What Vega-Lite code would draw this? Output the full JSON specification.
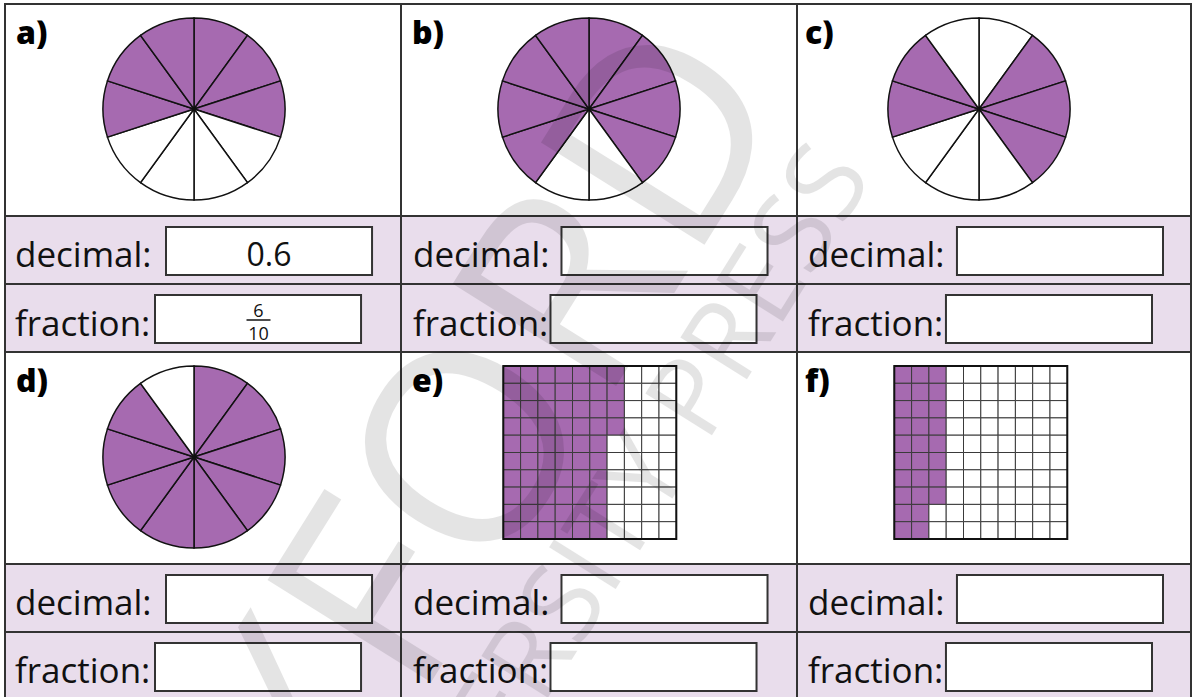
{
  "$schema": "https://vega.github.io/schema/vega-lite/v6.json",
  "width": 1198,
  "height": 697,
  "autosize": {"type": "none"},
  "padding": 0,
  "background": "white",
  "config": {"view": {"stroke": null}},
  "datasets": {
    "cells": [
      {"c0": 0, "c1": 1, "r0": 0, "r1": 1, "t": "blank"},
      {"c0": 1, "c1": 2, "r0": 0, "r1": 1, "t": "blank"},
      {"c0": 2, "c1": 3, "r0": 0, "r1": 1, "t": "blank"},
      {"c0": 0, "c1": 1, "r0": 1, "r1": 2, "t": "band"},
      {"c0": 1, "c1": 2, "r0": 1, "r1": 2, "t": "band"},
      {"c0": 2, "c1": 3, "r0": 1, "r1": 2, "t": "band"},
      {"c0": 0, "c1": 1, "r0": 2, "r1": 3, "t": "band"},
      {"c0": 1, "c1": 2, "r0": 2, "r1": 3, "t": "band"},
      {"c0": 2, "c1": 3, "r0": 2, "r1": 3, "t": "band"},
      {"c0": 0, "c1": 1, "r0": 3, "r1": 4, "t": "blank"},
      {"c0": 1, "c1": 2, "r0": 3, "r1": 4, "t": "blank"},
      {"c0": 2, "c1": 3, "r0": 3, "r1": 4, "t": "blank"},
      {"c0": 0, "c1": 1, "r0": 4, "r1": 5, "t": "band"},
      {"c0": 1, "c1": 2, "r0": 4, "r1": 5, "t": "band"},
      {"c0": 2, "c1": 3, "r0": 4, "r1": 5, "t": "band"},
      {"c0": 0, "c1": 1, "r0": 5, "r1": 6, "t": "band"},
      {"c0": 1, "c1": 2, "r0": 5, "r1": 6, "t": "band"},
      {"c0": 2, "c1": 3, "r0": 5, "r1": 6, "t": "band"}
    ],
    "boxes": [
      {"col": 0, "row": 0}, {"col": 1, "row": 0}, {"col": 2, "row": 0},
      {"col": 0, "row": 1}, {"col": 1, "row": 1}, {"col": 2, "row": 1}
    ],
    "labels": [
      {"col": 0, "slot": 0, "label": "decimal:"}, {"col": 1, "slot": 0, "label": "decimal:"}, {"col": 2, "slot": 0, "label": "decimal:"},
      {"col": 0, "slot": 1, "label": "fraction:"}, {"col": 1, "slot": 1, "label": "fraction:"}, {"col": 2, "slot": 1, "label": "fraction:"},
      {"col": 0, "slot": 2, "label": "decimal:"}, {"col": 1, "slot": 2, "label": "decimal:"}, {"col": 2, "slot": 2, "label": "decimal:"},
      {"col": 0, "slot": 3, "label": "fraction:"}, {"col": 1, "slot": 3, "label": "fraction:"}, {"col": 2, "slot": 3, "label": "fraction:"}
    ],
    "letters": [
      {"p": "a)", "col": 0, "row": 0}, {"p": "b)", "col": 1, "row": 0}, {"p": "c)", "col": 2, "row": 0},
      {"p": "d)", "col": 0, "row": 1}, {"p": "e)", "col": 1, "row": 1}, {"p": "f)", "col": 2, "row": 1}
    ],
    "answerDecimal": [{"col": 0, "row": 0, "text": "0.6"}],
    "answerFraction": [
      {"col": 0, "part": 0, "text": "6"},
      {"col": 0, "part": 1, "text": "10"}
    ],
    "fractionBar": [{"col": 0, "row": 0}],
    "slices": [
      {"col": 0, "row": 0, "s0": 0, "s1": 1, "t": "shade"},
      {"col": 0, "row": 0, "s0": 1, "s1": 2, "t": "shade"},
      {"col": 0, "row": 0, "s0": 2, "s1": 3, "t": "shade"},
      {"col": 0, "row": 0, "s0": 3, "s1": 4, "t": "blank"},
      {"col": 0, "row": 0, "s0": 4, "s1": 5, "t": "blank"},
      {"col": 0, "row": 0, "s0": 5, "s1": 6, "t": "blank"},
      {"col": 0, "row": 0, "s0": 6, "s1": 7, "t": "blank"},
      {"col": 0, "row": 0, "s0": 7, "s1": 8, "t": "shade"},
      {"col": 0, "row": 0, "s0": 8, "s1": 9, "t": "shade"},
      {"col": 0, "row": 0, "s0": 9, "s1": 10, "t": "shade"},
      {"col": 1, "row": 0, "s0": 0, "s1": 1, "t": "shade"},
      {"col": 1, "row": 0, "s0": 1, "s1": 2, "t": "shade"},
      {"col": 1, "row": 0, "s0": 2, "s1": 3, "t": "shade"},
      {"col": 1, "row": 0, "s0": 3, "s1": 4, "t": "shade"},
      {"col": 1, "row": 0, "s0": 4, "s1": 5, "t": "blank"},
      {"col": 1, "row": 0, "s0": 5, "s1": 6, "t": "blank"},
      {"col": 1, "row": 0, "s0": 6, "s1": 7, "t": "shade"},
      {"col": 1, "row": 0, "s0": 7, "s1": 8, "t": "shade"},
      {"col": 1, "row": 0, "s0": 8, "s1": 9, "t": "shade"},
      {"col": 1, "row": 0, "s0": 9, "s1": 10, "t": "shade"},
      {"col": 2, "row": 0, "s0": 0, "s1": 1, "t": "blank"},
      {"col": 2, "row": 0, "s0": 1, "s1": 2, "t": "shade"},
      {"col": 2, "row": 0, "s0": 2, "s1": 3, "t": "shade"},
      {"col": 2, "row": 0, "s0": 3, "s1": 4, "t": "shade"},
      {"col": 2, "row": 0, "s0": 4, "s1": 5, "t": "blank"},
      {"col": 2, "row": 0, "s0": 5, "s1": 6, "t": "blank"},
      {"col": 2, "row": 0, "s0": 6, "s1": 7, "t": "blank"},
      {"col": 2, "row": 0, "s0": 7, "s1": 8, "t": "shade"},
      {"col": 2, "row": 0, "s0": 8, "s1": 9, "t": "shade"},
      {"col": 2, "row": 0, "s0": 9, "s1": 10, "t": "blank"},
      {"col": 0, "row": 1, "s0": 0, "s1": 1, "t": "shade"},
      {"col": 0, "row": 1, "s0": 1, "s1": 2, "t": "shade"},
      {"col": 0, "row": 1, "s0": 2, "s1": 3, "t": "shade"},
      {"col": 0, "row": 1, "s0": 3, "s1": 4, "t": "shade"},
      {"col": 0, "row": 1, "s0": 4, "s1": 5, "t": "shade"},
      {"col": 0, "row": 1, "s0": 5, "s1": 6, "t": "shade"},
      {"col": 0, "row": 1, "s0": 6, "s1": 7, "t": "shade"},
      {"col": 0, "row": 1, "s0": 7, "s1": 8, "t": "shade"},
      {"col": 0, "row": 1, "s0": 8, "s1": 9, "t": "shade"},
      {"col": 0, "row": 1, "s0": 9, "s1": 10, "t": "blank"}
    ],
    "gridE": [
      {"c":0,"r":0,"t":"shade"},{"c":1,"r":0,"t":"shade"},{"c":2,"r":0,"t":"shade"},{"c":3,"r":0,"t":"shade"},{"c":4,"r":0,"t":"shade"},{"c":5,"r":0,"t":"shade"},{"c":6,"r":0,"t":"shade"},{"c":7,"r":0,"t":"blank"},{"c":8,"r":0,"t":"blank"},{"c":9,"r":0,"t":"blank"},
      {"c":0,"r":1,"t":"shade"},{"c":1,"r":1,"t":"shade"},{"c":2,"r":1,"t":"shade"},{"c":3,"r":1,"t":"shade"},{"c":4,"r":1,"t":"shade"},{"c":5,"r":1,"t":"shade"},{"c":6,"r":1,"t":"shade"},{"c":7,"r":1,"t":"blank"},{"c":8,"r":1,"t":"blank"},{"c":9,"r":1,"t":"blank"},
      {"c":0,"r":2,"t":"shade"},{"c":1,"r":2,"t":"shade"},{"c":2,"r":2,"t":"shade"},{"c":3,"r":2,"t":"shade"},{"c":4,"r":2,"t":"shade"},{"c":5,"r":2,"t":"shade"},{"c":6,"r":2,"t":"shade"},{"c":7,"r":2,"t":"blank"},{"c":8,"r":2,"t":"blank"},{"c":9,"r":2,"t":"blank"},
      {"c":0,"r":3,"t":"shade"},{"c":1,"r":3,"t":"shade"},{"c":2,"r":3,"t":"shade"},{"c":3,"r":3,"t":"shade"},{"c":4,"r":3,"t":"shade"},{"c":5,"r":3,"t":"shade"},{"c":6,"r":3,"t":"shade"},{"c":7,"r":3,"t":"blank"},{"c":8,"r":3,"t":"blank"},{"c":9,"r":3,"t":"blank"},
      {"c":0,"r":4,"t":"shade"},{"c":1,"r":4,"t":"shade"},{"c":2,"r":4,"t":"shade"},{"c":3,"r":4,"t":"shade"},{"c":4,"r":4,"t":"shade"},{"c":5,"r":4,"t":"shade"},{"c":6,"r":4,"t":"blank"},{"c":7,"r":4,"t":"blank"},{"c":8,"r":4,"t":"blank"},{"c":9,"r":4,"t":"blank"},
      {"c":0,"r":5,"t":"shade"},{"c":1,"r":5,"t":"shade"},{"c":2,"r":5,"t":"shade"},{"c":3,"r":5,"t":"shade"},{"c":4,"r":5,"t":"shade"},{"c":5,"r":5,"t":"shade"},{"c":6,"r":5,"t":"blank"},{"c":7,"r":5,"t":"blank"},{"c":8,"r":5,"t":"blank"},{"c":9,"r":5,"t":"blank"},
      {"c":0,"r":6,"t":"shade"},{"c":1,"r":6,"t":"shade"},{"c":2,"r":6,"t":"shade"},{"c":3,"r":6,"t":"shade"},{"c":4,"r":6,"t":"shade"},{"c":5,"r":6,"t":"shade"},{"c":6,"r":6,"t":"blank"},{"c":7,"r":6,"t":"blank"},{"c":8,"r":6,"t":"blank"},{"c":9,"r":6,"t":"blank"},
      {"c":0,"r":7,"t":"shade"},{"c":1,"r":7,"t":"shade"},{"c":2,"r":7,"t":"shade"},{"c":3,"r":7,"t":"shade"},{"c":4,"r":7,"t":"shade"},{"c":5,"r":7,"t":"shade"},{"c":6,"r":7,"t":"blank"},{"c":7,"r":7,"t":"blank"},{"c":8,"r":7,"t":"blank"},{"c":9,"r":7,"t":"blank"},
      {"c":0,"r":8,"t":"shade"},{"c":1,"r":8,"t":"shade"},{"c":2,"r":8,"t":"shade"},{"c":3,"r":8,"t":"shade"},{"c":4,"r":8,"t":"shade"},{"c":5,"r":8,"t":"shade"},{"c":6,"r":8,"t":"blank"},{"c":7,"r":8,"t":"blank"},{"c":8,"r":8,"t":"blank"},{"c":9,"r":8,"t":"blank"},
      {"c":0,"r":9,"t":"shade"},{"c":1,"r":9,"t":"shade"},{"c":2,"r":9,"t":"shade"},{"c":3,"r":9,"t":"shade"},{"c":4,"r":9,"t":"shade"},{"c":5,"r":9,"t":"shade"},{"c":6,"r":9,"t":"blank"},{"c":7,"r":9,"t":"blank"},{"c":8,"r":9,"t":"blank"},{"c":9,"r":9,"t":"blank"}
    ],
    "gridF": [
      {"c":0,"r":0,"t":"shade"},{"c":1,"r":0,"t":"shade"},{"c":2,"r":0,"t":"shade"},{"c":3,"r":0,"t":"blank"},{"c":4,"r":0,"t":"blank"},{"c":5,"r":0,"t":"blank"},{"c":6,"r":0,"t":"blank"},{"c":7,"r":0,"t":"blank"},{"c":8,"r":0,"t":"blank"},{"c":9,"r":0,"t":"blank"},
      {"c":0,"r":1,"t":"shade"},{"c":1,"r":1,"t":"shade"},{"c":2,"r":1,"t":"shade"},{"c":3,"r":1,"t":"blank"},{"c":4,"r":1,"t":"blank"},{"c":5,"r":1,"t":"blank"},{"c":6,"r":1,"t":"blank"},{"c":7,"r":1,"t":"blank"},{"c":8,"r":1,"t":"blank"},{"c":9,"r":1,"t":"blank"},
      {"c":0,"r":2,"t":"shade"},{"c":1,"r":2,"t":"shade"},{"c":2,"r":2,"t":"shade"},{"c":3,"r":2,"t":"blank"},{"c":4,"r":2,"t":"blank"},{"c":5,"r":2,"t":"blank"},{"c":6,"r":2,"t":"blank"},{"c":7,"r":2,"t":"blank"},{"c":8,"r":2,"t":"blank"},{"c":9,"r":2,"t":"blank"},
      {"c":0,"r":3,"t":"shade"},{"c":1,"r":3,"t":"shade"},{"c":2,"r":3,"t":"shade"},{"c":3,"r":3,"t":"blank"},{"c":4,"r":3,"t":"blank"},{"c":5,"r":3,"t":"blank"},{"c":6,"r":3,"t":"blank"},{"c":7,"r":3,"t":"blank"},{"c":8,"r":3,"t":"blank"},{"c":9,"r":3,"t":"blank"},
      {"c":0,"r":4,"t":"shade"},{"c":1,"r":4,"t":"shade"},{"c":2,"r":4,"t":"shade"},{"c":3,"r":4,"t":"blank"},{"c":4,"r":4,"t":"blank"},{"c":5,"r":4,"t":"blank"},{"c":6,"r":4,"t":"blank"},{"c":7,"r":4,"t":"blank"},{"c":8,"r":4,"t":"blank"},{"c":9,"r":4,"t":"blank"},
      {"c":0,"r":5,"t":"shade"},{"c":1,"r":5,"t":"shade"},{"c":2,"r":5,"t":"shade"},{"c":3,"r":5,"t":"blank"},{"c":4,"r":5,"t":"blank"},{"c":5,"r":5,"t":"blank"},{"c":6,"r":5,"t":"blank"},{"c":7,"r":5,"t":"blank"},{"c":8,"r":5,"t":"blank"},{"c":9,"r":5,"t":"blank"},
      {"c":0,"r":6,"t":"shade"},{"c":1,"r":6,"t":"shade"},{"c":2,"r":6,"t":"shade"},{"c":3,"r":6,"t":"blank"},{"c":4,"r":6,"t":"blank"},{"c":5,"r":6,"t":"blank"},{"c":6,"r":6,"t":"blank"},{"c":7,"r":6,"t":"blank"},{"c":8,"r":6,"t":"blank"},{"c":9,"r":6,"t":"blank"},
      {"c":0,"r":7,"t":"shade"},{"c":1,"r":7,"t":"shade"},{"c":2,"r":7,"t":"shade"},{"c":3,"r":7,"t":"blank"},{"c":4,"r":7,"t":"blank"},{"c":5,"r":7,"t":"blank"},{"c":6,"r":7,"t":"blank"},{"c":7,"r":7,"t":"blank"},{"c":8,"r":7,"t":"blank"},{"c":9,"r":7,"t":"blank"},
      {"c":0,"r":8,"t":"shade"},{"c":1,"r":8,"t":"shade"},{"c":2,"r":8,"t":"blank"},{"c":3,"r":8,"t":"blank"},{"c":4,"r":8,"t":"blank"},{"c":5,"r":8,"t":"blank"},{"c":6,"r":8,"t":"blank"},{"c":7,"r":8,"t":"blank"},{"c":8,"r":8,"t":"blank"},{"c":9,"r":8,"t":"blank"},
      {"c":0,"r":9,"t":"shade"},{"c":1,"r":9,"t":"shade"},{"c":2,"r":9,"t":"blank"},{"c":3,"r":9,"t":"blank"},{"c":4,"r":9,"t":"blank"},{"c":5,"r":9,"t":"blank"},{"c":6,"r":9,"t":"blank"},{"c":7,"r":9,"t":"blank"},{"c":8,"r":9,"t":"blank"},{"c":9,"r":9,"t":"blank"}
    ],
    "frames": [{"col": 1, "row": 1}, {"col": 2, "row": 1}],
    "watermark": [
      {"i": 0, "w": "OXFORD"},
      {"i": 1, "w": "UNIVERSITY PRESS"}
    ]
  },
  "layer": [
    {
      "data": {"name": "cells"},
      "mark": {"type": "rect", "stroke": "#333333", "strokeWidth": 2},
      "encoding": {
        "x": {"field": "c0", "type": "quantitative", "axis": null, "scale": {"domain": [0, 1, 2, 3], "range": [5, 401, 797, 1191], "nice": false, "zero": false}},
        "x2": {"field": "c1"},
        "y": {"field": "r0", "type": "quantitative", "axis": null, "scale": {"domain": [0, 1, 2, 3, 4, 5, 6], "range": [4, 216, 284, 352, 564, 632, 700], "nice": false, "zero": false}},
        "y2": {"field": "r1"},
        "fill": {"field": "t", "type": "nominal", "legend": null, "scale": {"domain": ["shade", "blank", "band"], "range": ["#a66ab0", "#ffffff", "#e9ddec"]}}
      }
    },
    {
      "data": {"name": "boxes"},
      "mark": {"type": "rect", "fill": "#ffffff", "stroke": "#333333", "strokeWidth": 2},
      "encoding": {
        "x": {"field": "col", "type": "ordinal", "axis": null, "scale": {"type": "band", "domain": [0, 1, 2], "range": [166, 1163], "paddingInner": 0.479, "paddingOuter": 0}},
        "y": {"field": "row", "type": "ordinal", "axis": null, "scale": {"type": "band", "domain": [0, 1], "range": [227, 623], "paddingInner": 0.8621, "paddingOuter": 0}}
      }
    },
    {
      "data": {"name": "boxes"},
      "mark": {"type": "rect", "fill": "#ffffff", "stroke": "#333333", "strokeWidth": 2},
      "encoding": {
        "x": {"field": "col", "type": "ordinal", "axis": null, "scale": {"type": "band", "domain": [0, 1, 2], "range": [155, 1152], "paddingInner": 0.479, "paddingOuter": 0}},
        "y": {"field": "row", "type": "ordinal", "axis": null, "scale": {"type": "band", "domain": [0, 1], "range": [295, 691], "paddingInner": 0.8621, "paddingOuter": 0}}
      }
    },
    {
      "data": {"name": "labels"},
      "mark": {"type": "text", "align": "left", "baseline": "alphabetic", "font": "Open Sans", "fontSize": 35, "color": "#111111"},
      "encoding": {
        "x": {"field": "col", "type": "quantitative", "axis": null, "scale": {"domain": [0, 1, 2], "range": [15, 413, 808], "nice": false, "zero": false}},
        "y": {"field": "slot", "type": "quantitative", "axis": null, "scale": {"domain": [0, 1, 2, 3], "range": [267, 336, 615, 683], "nice": false, "zero": false}},
        "text": {"field": "label"}
      }
    },
    {
      "data": {"name": "letters"},
      "mark": {"type": "text", "align": "left", "baseline": "alphabetic", "font": "Open Sans", "fontWeight": 800, "fontSize": 32, "color": "#000000"},
      "encoding": {
        "x": {"field": "col", "type": "quantitative", "axis": null, "scale": {"domain": [0, 1, 2], "range": [16, 412, 805], "nice": false, "zero": false}},
        "y": {"field": "row", "type": "quantitative", "axis": null, "scale": {"domain": [0, 1], "range": [44, 392], "nice": false, "zero": false}},
        "text": {"field": "p"}
      }
    },
    {
      "data": {"name": "answerDecimal"},
      "mark": {"type": "text", "align": "center", "baseline": "alphabetic", "font": "Open Sans", "fontSize": 32, "color": "#111111"},
      "encoding": {
        "x": {"field": "col", "type": "quantitative", "axis": null, "scale": {"domain": [0, 1, 2], "range": [269, 665, 1059], "nice": false, "zero": false}},
        "y": {"field": "row", "type": "quantitative", "axis": null, "scale": {"domain": [0, 1], "range": [266, 614], "nice": false, "zero": false}},
        "text": {"field": "text"}
      }
    },
    {
      "data": {"name": "answerFraction"},
      "mark": {"type": "text", "align": "center", "baseline": "alphabetic", "font": "Open Sans", "fontSize": 18, "color": "#111111"},
      "encoding": {
        "x": {"field": "col", "type": "quantitative", "axis": null, "scale": {"domain": [0, 1, 2], "range": [258.5, 654, 1049], "nice": false, "zero": false}},
        "y": {"field": "part", "type": "quantitative", "axis": null, "scale": {"domain": [0, 1], "range": [317, 340], "nice": false, "zero": false}},
        "text": {"field": "text"}
      }
    },
    {
      "data": {"name": "fractionBar"},
      "mark": {"type": "tick", "orient": "horizontal", "size": 24, "thickness": 1.5, "color": "#111111", "opacity": 1},
      "encoding": {
        "x": {"field": "col", "type": "quantitative", "axis": null, "scale": {"domain": [0, 1, 2], "range": [258.5, 654, 1049], "nice": false, "zero": false}},
        "y": {"field": "row", "type": "quantitative", "axis": null, "scale": {"domain": [0, 1], "range": [320, 668], "nice": false, "zero": false}}
      }
    },
    {
      "data": {"name": "slices"},
      "mark": {"type": "arc", "outerRadius": 91, "stroke": "#111111", "strokeWidth": 1.5},
      "encoding": {
        "x": {"field": "col", "type": "quantitative", "axis": null, "scale": {"domain": [0, 1, 2], "range": [194, 589, 979], "nice": false, "zero": false}},
        "y": {"field": "row", "type": "quantitative", "axis": null, "scale": {"domain": [0, 1], "range": [109, 457], "nice": false, "zero": false}},
        "theta": {"field": "s0", "type": "quantitative", "stack": null, "scale": {"domain": [0, 10], "range": [0, 6.283185307179586], "nice": false, "zero": false}},
        "theta2": {"field": "s1"},
        "fill": {"field": "t", "type": "nominal", "legend": null, "scale": {"domain": ["shade", "blank", "band"], "range": ["#a66ab0", "#ffffff", "#e9ddec"]}}
      }
    },
    {
      "data": {"name": "gridE"},
      "mark": {"type": "rect", "stroke": "#3a3a3a", "strokeWidth": 1},
      "encoding": {
        "x": {"field": "c", "type": "ordinal", "axis": null, "scale": {"type": "band", "domain": [0,1,2,3,4,5,6,7,8,9], "range": [503.3, 676.3], "paddingInner": 0, "paddingOuter": 0}},
        "y": {"field": "r", "type": "ordinal", "axis": null, "scale": {"type": "band", "domain": [0,1,2,3,4,5,6,7,8,9], "range": [366, 539], "paddingInner": 0, "paddingOuter": 0}},
        "fill": {"field": "t", "type": "nominal", "legend": null, "scale": {"domain": ["shade", "blank", "band"], "range": ["#a66ab0", "#ffffff", "#e9ddec"]}}
      }
    },
    {
      "data": {"name": "gridF"},
      "mark": {"type": "rect", "stroke": "#3a3a3a", "strokeWidth": 1},
      "encoding": {
        "x": {"field": "c", "type": "ordinal", "axis": null, "scale": {"type": "band", "domain": [0,1,2,3,4,5,6,7,8,9], "range": [894.3, 1067.3], "paddingInner": 0, "paddingOuter": 0}},
        "y": {"field": "r", "type": "ordinal", "axis": null, "scale": {"type": "band", "domain": [0,1,2,3,4,5,6,7,8,9], "range": [366, 539], "paddingInner": 0, "paddingOuter": 0}},
        "fill": {"field": "t", "type": "nominal", "legend": null, "scale": {"domain": ["shade", "blank", "band"], "range": ["#a66ab0", "#ffffff", "#e9ddec"]}}
      }
    },
    {
      "data": {"name": "frames"},
      "mark": {"type": "rect", "fillOpacity": 0, "stroke": "#111111", "strokeWidth": 2},
      "encoding": {
        "x": {"field": "col", "type": "ordinal", "axis": null, "scale": {"type": "band", "domain": [1, 2], "range": [503.3, 1067.3], "paddingInner": 0.5575, "paddingOuter": 0}},
        "y": {"field": "row", "type": "ordinal", "axis": null, "scale": {"type": "band", "domain": [1], "range": [366, 539], "paddingInner": 0, "paddingOuter": 0}}
      }
    },
    {
      "data": {"name": "watermark"},
      "mark": {"type": "text", "align": "center", "baseline": "middle", "font": "Open Sans", "angle": -58, "color": "#000000", "opacity": 0.1},
      "encoding": {
        "x": {"field": "i", "type": "quantitative", "axis": null, "scale": {"domain": [0, 1], "range": [440, 595], "nice": false, "zero": false}},
        "y": {"field": "i", "type": "quantitative", "axis": null, "scale": {"domain": [0, 1], "range": [515, 560], "nice": false, "zero": false}},
        "size": {"field": "i", "type": "quantitative", "legend": null, "scale": {"domain": [0, 1], "range": [270, 110], "zero": false}},
        "text": {"field": "w"}
      }
    }
  ],
  "resolve": {"scale": {"x": "independent", "y": "independent", "size": "independent", "theta": "independent"}}
}
